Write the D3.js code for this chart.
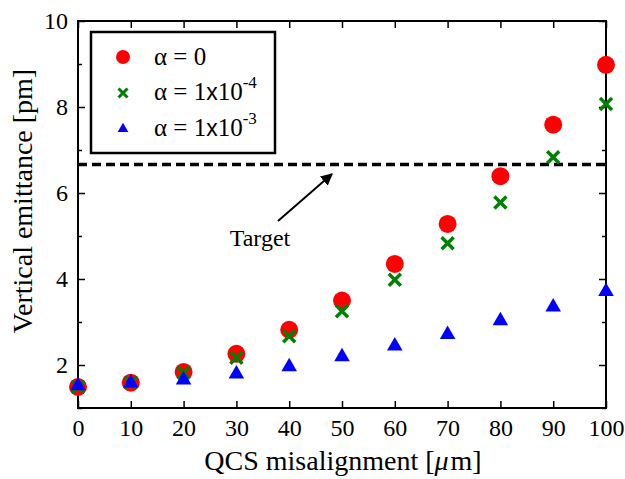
<!DOCTYPE html>
<meta charset="utf-8">
<script src="https://d3js.org/d3.v7.min.js"></script>
<style>
  body { margin: 0; background: #fff; }
</style>
<div id="my_dataviz"></div>
<script>
  // data
  var misalign = [0, 10, 20, 30, 40, 50, 60, 70, 80, 90, 100];
  var alpha0 = [1.49, 1.59, 1.84, 2.26, 2.82, 3.50, 4.35, 5.28, 6.39, 7.59, 8.98];
  var alpha1e4 = [1.49, 1.59, 1.82, 2.17, 2.67, 3.25, 3.98, 4.83, 5.78, 6.83, 8.07];
  var alpha1e3 = [1.52, 1.58, 1.65, 1.79, 1.96, 2.19, 2.44, 2.71, 3.03, 3.35, 3.71];
  var target = 6.66;
  var xTicks = [0, 10, 20, 30, 40, 50, 60, 70, 80, 90, 100];
  var yTicks = [2, 4, 6, 8, 10];
  var yMinor = [1, 3, 5, 7, 9];

  var SERIF = "Liberation Serif";
  var W = 625, H = 479;
  var margin = { top: 21, right: 19, bottom: 71, left: 78 },
    width = W - margin.left - margin.right,
    height = H - margin.top - margin.bottom;

  var svg = d3.select("#my_dataviz")
    .append("svg")
    .attr("width", W)
    .attr("height", H)
    .attr("font-family", SERIF);

  var g = svg.append("g")
    .attr("transform", "translate(" + margin.left + "," + margin.top + ")");

  var x = d3.scaleLinear().domain([0, 100]).range([0, width]);
  var y = d3.scaleLinear().domain([1, 10]).range([height, 0]);

  // axes with inward ticks
  function styleAxis(sel) {
    sel.attr("font-family", SERIF).attr("font-size", 24);
    sel.select(".domain").remove();
    sel.selectAll(".tick line").attr("stroke", "#000").attr("stroke-width", 1.5);
    sel.selectAll(".tick text").attr("fill", "#000");
  }

  g.append("g")
    .attr("transform", "translate(0," + height + ")")
    .call(d3.axisBottom(x).tickValues(xTicks).tickSize(-7).tickPadding(11))
    .call(styleAxis);

  g.append("g")
    .call(d3.axisTop(x).tickValues(xTicks).tickSize(-7).tickFormat(""))
    .call(styleAxis);

  g.append("g")
    .call(d3.axisLeft(y).tickValues(yTicks).tickSize(-7).tickPadding(10))
    .call(styleAxis);

  g.append("g")
    .call(d3.axisLeft(y).tickValues(yMinor).tickSize(-4).tickFormat(""))
    .call(styleAxis);

  g.append("g")
    .attr("transform", "translate(" + width + ",0)")
    .call(d3.axisRight(y).tickValues(yTicks).tickSize(-7).tickFormat(""))
    .call(styleAxis);

  g.append("g")
    .attr("transform", "translate(" + width + ",0)")
    .call(d3.axisRight(y).tickValues(yMinor).tickSize(-4).tickFormat(""))
    .call(styleAxis);

  // frame
  g.append("rect")
    .attr("x", 0).attr("y", 0)
    .attr("width", width).attr("height", height)
    .attr("fill", "none")
    .attr("stroke", "#000")
    .attr("stroke-width", 2);

  // target line
  g.append("line")
    .attr("x1", x(0)).attr("x2", x(100))
    .attr("y1", y(target)).attr("y2", y(target))
    .attr("stroke", "#000")
    .attr("stroke-width", 3.5)
    .attr("stroke-dasharray", "9,5");

  // arrow + label
  svg.append("defs").append("marker")
    .attr("id", "head")
    .attr("viewBox", "0 0 10 10")
    .attr("refX", 9).attr("refY", 5)
    .attr("markerWidth", 6).attr("markerHeight", 6)
    .attr("markerUnits", "strokeWidth")
    .attr("orient", "auto")
    .append("path")
    .attr("d", "M0,0L10,5L0,10z")
    .attr("fill", "#000");

  svg.append("line")
    .attr("x1", 278).attr("y1", 221)
    .attr("x2", 332).attr("y2", 174)
    .attr("stroke", "#000")
    .attr("stroke-width", 2)
    .attr("marker-end", "url(#head)");

  svg.append("text")
    .attr("x", 260).attr("y", 246)
    .attr("text-anchor", "middle")
    .attr("font-family", SERIF)
    .attr("font-size", 24)
    .text("Target");

  // markers
  g.selectAll("circle.a0")
    .data(alpha0)
    .enter()
    .append("circle")
    .attr("class", "a0")
    .attr("cx", function (d, i) { return x(misalign[i]); })
    .attr("cy", function (d) { return y(d); })
    .attr("r", 9)
    .attr("fill", "#ff0000");

  var xs = "M-6,-6L6,6M-6,6L6,-6";
  g.selectAll("path.a1")
    .data(alpha1e4)
    .enter()
    .append("path")
    .attr("class", "a1")
    .attr("d", xs)
    .attr("transform", function (d, i) { return "translate(" + x(misalign[i]) + "," + y(d) + ")"; })
    .attr("stroke", "#008000")
    .attr("stroke-width", 3.5)
    .attr("fill", "none");

  var tri = d3.symbol().type(d3.symbolTriangle).size(105);
  g.selectAll("path.a2")
    .data(alpha1e3)
    .enter()
    .append("path")
    .attr("class", "a2")
    .attr("d", tri)
    .attr("transform", function (d, i) { return "translate(" + x(misalign[i]) + "," + y(d) + ")"; })
    .attr("fill", "#0000ff");

  // legend
  var leg = svg.append("g");
  leg.append("rect")
    .attr("x", 91).attr("y", 32)
    .attr("width", 184).attr("height", 121)
    .attr("fill", "#fff")
    .attr("stroke", "#000")
    .attr("stroke-width", 2.5);

  leg.append("circle").attr("cx", 123).attr("cy", 57).attr("r", 7).attr("fill", "#ff0000");
  leg.append("path").attr("d", "M-4.5,-4.5L4.5,4.5M-4.5,4.5L4.5,-4.5")
    .attr("transform", "translate(123,93)")
    .attr("stroke", "#008000").attr("stroke-width", 3).attr("fill", "none");
  leg.append("path").attr("d", d3.symbol().type(d3.symbolTriangle).size(50))
    .attr("transform", "translate(123,129)")
    .attr("fill", "#0000ff");

  leg.append("text").attr("x", 154).attr("y", 65)
    .attr("font-family", SERIF).attr("font-size", 25).text("α = 0");

  var exps = ["-4", "-3"];
  var rowsY = [100, 136];
  exps.forEach(function (e, i) {
    var t = leg.append("text").attr("x", 154).attr("y", rowsY[i])
      .attr("font-family", SERIF).attr("font-size", 25);
    t.append("tspan").text("α = 1");
    t.append("tspan").attr("font-family", "Liberation Sans").attr("font-size", 23).text("x");
    t.append("tspan").text("10");
    t.append("tspan").attr("dy", -12).attr("font-size", 17).text(e);
  });

  // axis titles
  var xt = svg.append("text")
    .attr("x", 343).attr("y", 470)
    .attr("text-anchor", "middle")
    .attr("font-family", SERIF)
    .attr("font-size", 28);
  xt.append("tspan").text("QCS misalignment [");
  xt.append("tspan").attr("font-style", "italic").text("μ");
  xt.append("tspan").attr("dx", 2).text("m]");

  svg.append("text")
    .attr("transform", "translate(32,201) rotate(-90)")
    .attr("text-anchor", "middle")
    .attr("font-family", SERIF)
    .attr("font-size", 28)
    .text("Vertical emittance [pm]");
</script>
